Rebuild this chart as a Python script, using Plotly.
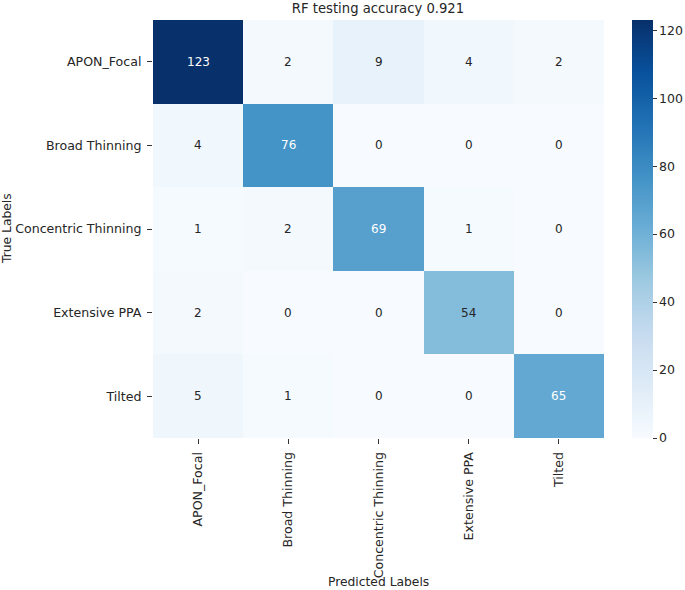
import plotly.graph_objects as go

labels = ["APON_Focal", "Broad Thinning", "Concentric Thinning", "Extensive PPA", "Tilted"]
matrix = [
    [123, 2, 9, 4, 2],
    [4, 76, 0, 0, 0],
    [1, 2, 69, 1, 0],
    [2, 0, 0, 54, 0],
    [5, 1, 0, 0, 65],
]
cbar_ticks = [0, 20, 40, 60, 80, 100, 120]
title_text = "RF testing accuracy 0.921"

W, H = 685, 590
L, R, T, B = 153, 81, 20, 152
FONT = "DejaVu Sans"
TXT = "#262626"

fig = go.Figure()
fig.add_trace(go.Heatmap(
    z=matrix, x=labels, y=labels,
    colorscale="Blues", zmin=0, zmax=123,
    xgap=0, ygap=0,
    hoverinfo="skip",
    colorbar=dict(
        thickness=21, len=1.0, lenmode="fraction", y=0.5, yanchor="middle",
        x=(632 - L) / (W - L - R), xanchor="left", xpad=0, ypad=0,
        outlinewidth=0, tickvals=cbar_ticks,
        ticks="outside", ticklen=4, tickcolor="#333", tickwidth=1,
        tickfont=dict(family=FONT, size=12.5, color=TXT),
    ),
))

for i, row in enumerate(matrix):
    for j, v in enumerate(row):
        fig.add_annotation(
            x=labels[j], y=labels[i], text=str(v), showarrow=False,
            font=dict(family=FONT, size=12, color="white" if v > 60 else TXT),
        )

fig.add_annotation(text="True Labels", xref="paper", yref="paper",
                   x=-(L - 7) / (W - L - R), y=0.5, textangle=-90, showarrow=False,
                   xanchor="center", yanchor="middle",
                   font=dict(family=FONT, size=12.3, color=TXT))
fig.add_annotation(text="Predicted Labels", xref="paper", yref="paper",
                   x=0.5, y=-(582 - 438) / (H - T - B), showarrow=False,
                   xanchor="center", yanchor="middle",
                   font=dict(family=FONT, size=12.3, color=TXT))

fig.update_layout(
    width=W, height=H,
    margin=dict(l=L, r=R, t=T, b=B, autoexpand=False),
    paper_bgcolor="white", plot_bgcolor="white",
    title=dict(text=title_text, x=(378 / W), xanchor="center",
               y=1 - 8 / H, yanchor="middle", yref="container",
               font=dict(family=FONT, size=13.2, color=TXT)),
    xaxis=dict(tickangle=-90, ticks="outside", ticklen=5, tickcolor="#333",
               ticklabelstandoff=3,
               showgrid=False, zeroline=False, showline=False,
               tickfont=dict(family=FONT, size=12.6, color=TXT)),
    yaxis=dict(autorange="reversed", ticks="outside", ticklen=5, tickcolor="#333",
               ticklabelstandoff=3,
               showgrid=False, zeroline=False, showline=False,
               tickfont=dict(family=FONT, size=12.6, color=TXT)),
)

fig.write_html("out.html")
